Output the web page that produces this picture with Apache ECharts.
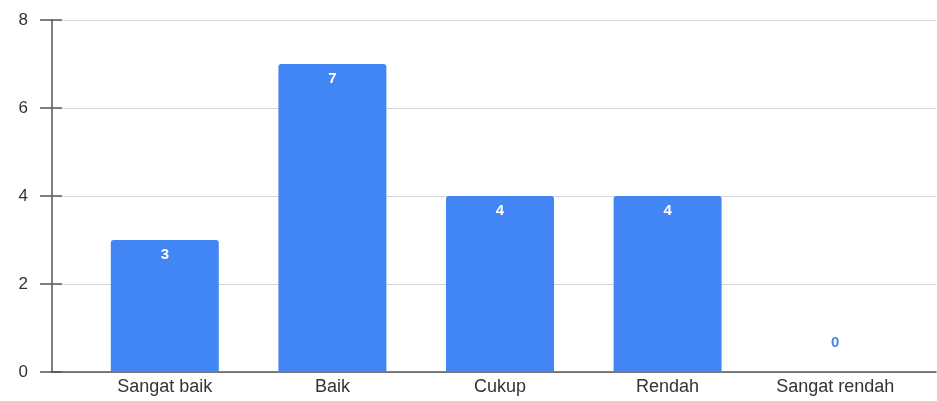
<!DOCTYPE html>
<html>
<head>
<meta charset="utf-8">
<script src="https://cdn.jsdelivr.net/npm/echarts@6/dist/echarts.min.js"></script>
<style>
  html, body { margin: 0; padding: 0; background: #fff; }
  #chart { width: 937px; height: 401px; }
</style>
</head>
<body>
<div id="chart"></div>
<script>
// Rating categories and response counts
const categories = ['Sangat baik', 'Baik', 'Cukup', 'Rendah', 'Sangat rendah'];
const counts = [3, 7, 4, 4, 0];
const yTicks = { min: 0, max: 8, interval: 2 };

const BLUE = '#4285F4';
const TEXT = '#333';
const FONT = 'Liberation Sans, Arial, sans-serif';

// Empty bars get their value printed above the baseline in blue
const barData = counts.map(v => v === 0
  ? { value: v, label: { position: 'top', distance: 22, color: '#4a86e8' } }
  : { value: v });

const chart = echarts.init(document.getElementById('chart'));
chart.setOption({
  animation: false,
  grid: [
    { left: 52, right: 1, top: 20, bottom: 29 },
    { left: 81, right: 18, top: 20, bottom: 29 }
  ],
  xAxis: [
    {
      gridIndex: 0, type: 'category', data: [''],
      axisLine: { show: true, lineStyle: { color: '#555', width: 1.5 } },
      axisTick: { show: false }, axisLabel: { show: false }
    },
    {
      gridIndex: 1, type: 'category', data: categories,
      axisLine: { show: false }, axisTick: { show: false },
      axisLabel: { color: TEXT, fontFamily: FONT, fontSize: 18, margin: 6 }
    }
  ],
  yAxis: [
    {
      gridIndex: 0, type: 'value', position: 'left',
      min: yTicks.min, max: yTicks.max, interval: yTicks.interval,
      axisLine: { show: true, lineStyle: { color: '#555', width: 1.5 } },
      axisTick: { show: true, length: 12, lineStyle: { color: '#555', width: 1.5 } },
      axisLabel: { color: TEXT, fontFamily: FONT, fontSize: 17, margin: 24 },
      splitLine: { show: true, lineStyle: { color: '#d6d6d6', width: 1 } }
    },
    {
      gridIndex: 0, type: 'value', position: 'left',
      min: yTicks.min, max: yTicks.max, interval: yTicks.interval,
      axisLine: { show: false },
      axisTick: { show: true, inside: true, length: 10, lineStyle: { color: '#555', width: 1.5 } },
      axisLabel: { show: false }, splitLine: { show: false }
    },
    {
      gridIndex: 1, type: 'value',
      min: yTicks.min, max: yTicks.max, interval: yTicks.interval,
      show: false
    }
  ],
  series: [{
    type: 'bar',
    xAxisIndex: 1, yAxisIndex: 2,
    data: barData,
    barWidth: 108,
    itemStyle: { color: BLUE, borderRadius: [3, 3, 0, 0] },
    label: {
      show: true, position: 'insideTop', distance: 7,
      color: '#fff', fontFamily: FONT, fontWeight: 'bold', fontSize: 15
    }
  }]
});
</script>
</body>
</html>
